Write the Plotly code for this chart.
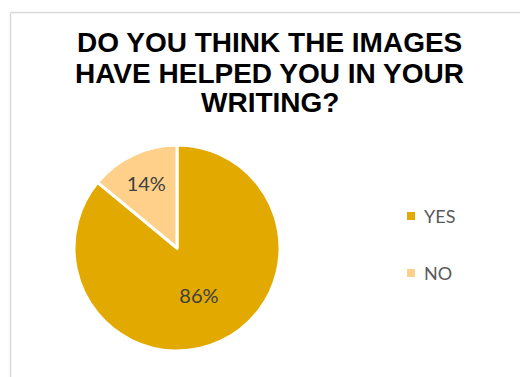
import plotly.graph_objects as go

labels = ["YES", "NO"]
values = [86, 14]
colors = ["#E2AA00", "#FFD08A"]
title_lines = ["DO YOU THINK THE IMAGES", "HAVE HELPED YOU IN YOUR", "WRITING?"]

W, H = 520, 377

fig = go.Figure()
fig.add_trace(go.Pie(
    labels=labels, values=values, sort=False, direction="clockwise", rotation=0,
    marker=dict(colors=colors, line=dict(color="white", width=3)),
    textinfo="percent", textposition="inside", insidetextorientation="horizontal",
    textfont=dict(family="Lato, Carlito, sans-serif", size=20, color="#404040"),
    domain=dict(x=[74 / W, 280 / W], y=[1 - 351 / H, 1 - 145 / H]),
    showlegend=False, hoverinfo="label+percent",
))

annotations = []
for i, line in enumerate(title_lines):
    annotations.append(dict(
        text="<b>%s</b>" % line, x=269.5 / W, y=1 - (43 + 30 * i) / H,
        xref="paper", yref="paper", xanchor="center", yanchor="middle",
        showarrow=False,
        font=dict(family="Liberation Sans, Arial, sans-serif", size=28, color="#000000"),
    ))

shapes = [
    dict(type="line", xref="paper", yref="paper", x0=10.5 / W, x1=10.5 / W, y0=0, y1=1 - 12.5 / H,
         line=dict(color="#D9D9D9", width=1.5)),
    dict(type="line", xref="paper", yref="paper", x0=10.5 / W, x1=1, y0=1 - 12.5 / H, y1=1 - 12.5 / H,
         line=dict(color="#D9D9D9", width=1.5)),
]

legend_y = [216, 273]
for lab, col, ly in zip(labels, colors, legend_y):
    shapes.append(dict(type="rect", xref="paper", yref="paper",
                       x0=407 / W, x1=415 / W, y0=1 - (ly + 4) / H, y1=1 - (ly - 4) / H,
                       fillcolor=col, line=dict(width=0)))
    annotations.append(dict(
        text=lab, x=422 / W, y=1 - ly / H, xref="paper", yref="paper",
        xanchor="left", yanchor="middle", showarrow=False,
        font=dict(family="Lato, Carlito, sans-serif", size=18, color="#595959"),
    ))

fig.update_layout(
    width=W, height=H, margin=dict(l=0, r=0, t=0, b=0),
    paper_bgcolor="white", plot_bgcolor="white",
    annotations=annotations, shapes=shapes,
)

fig.write_html("out.html")
